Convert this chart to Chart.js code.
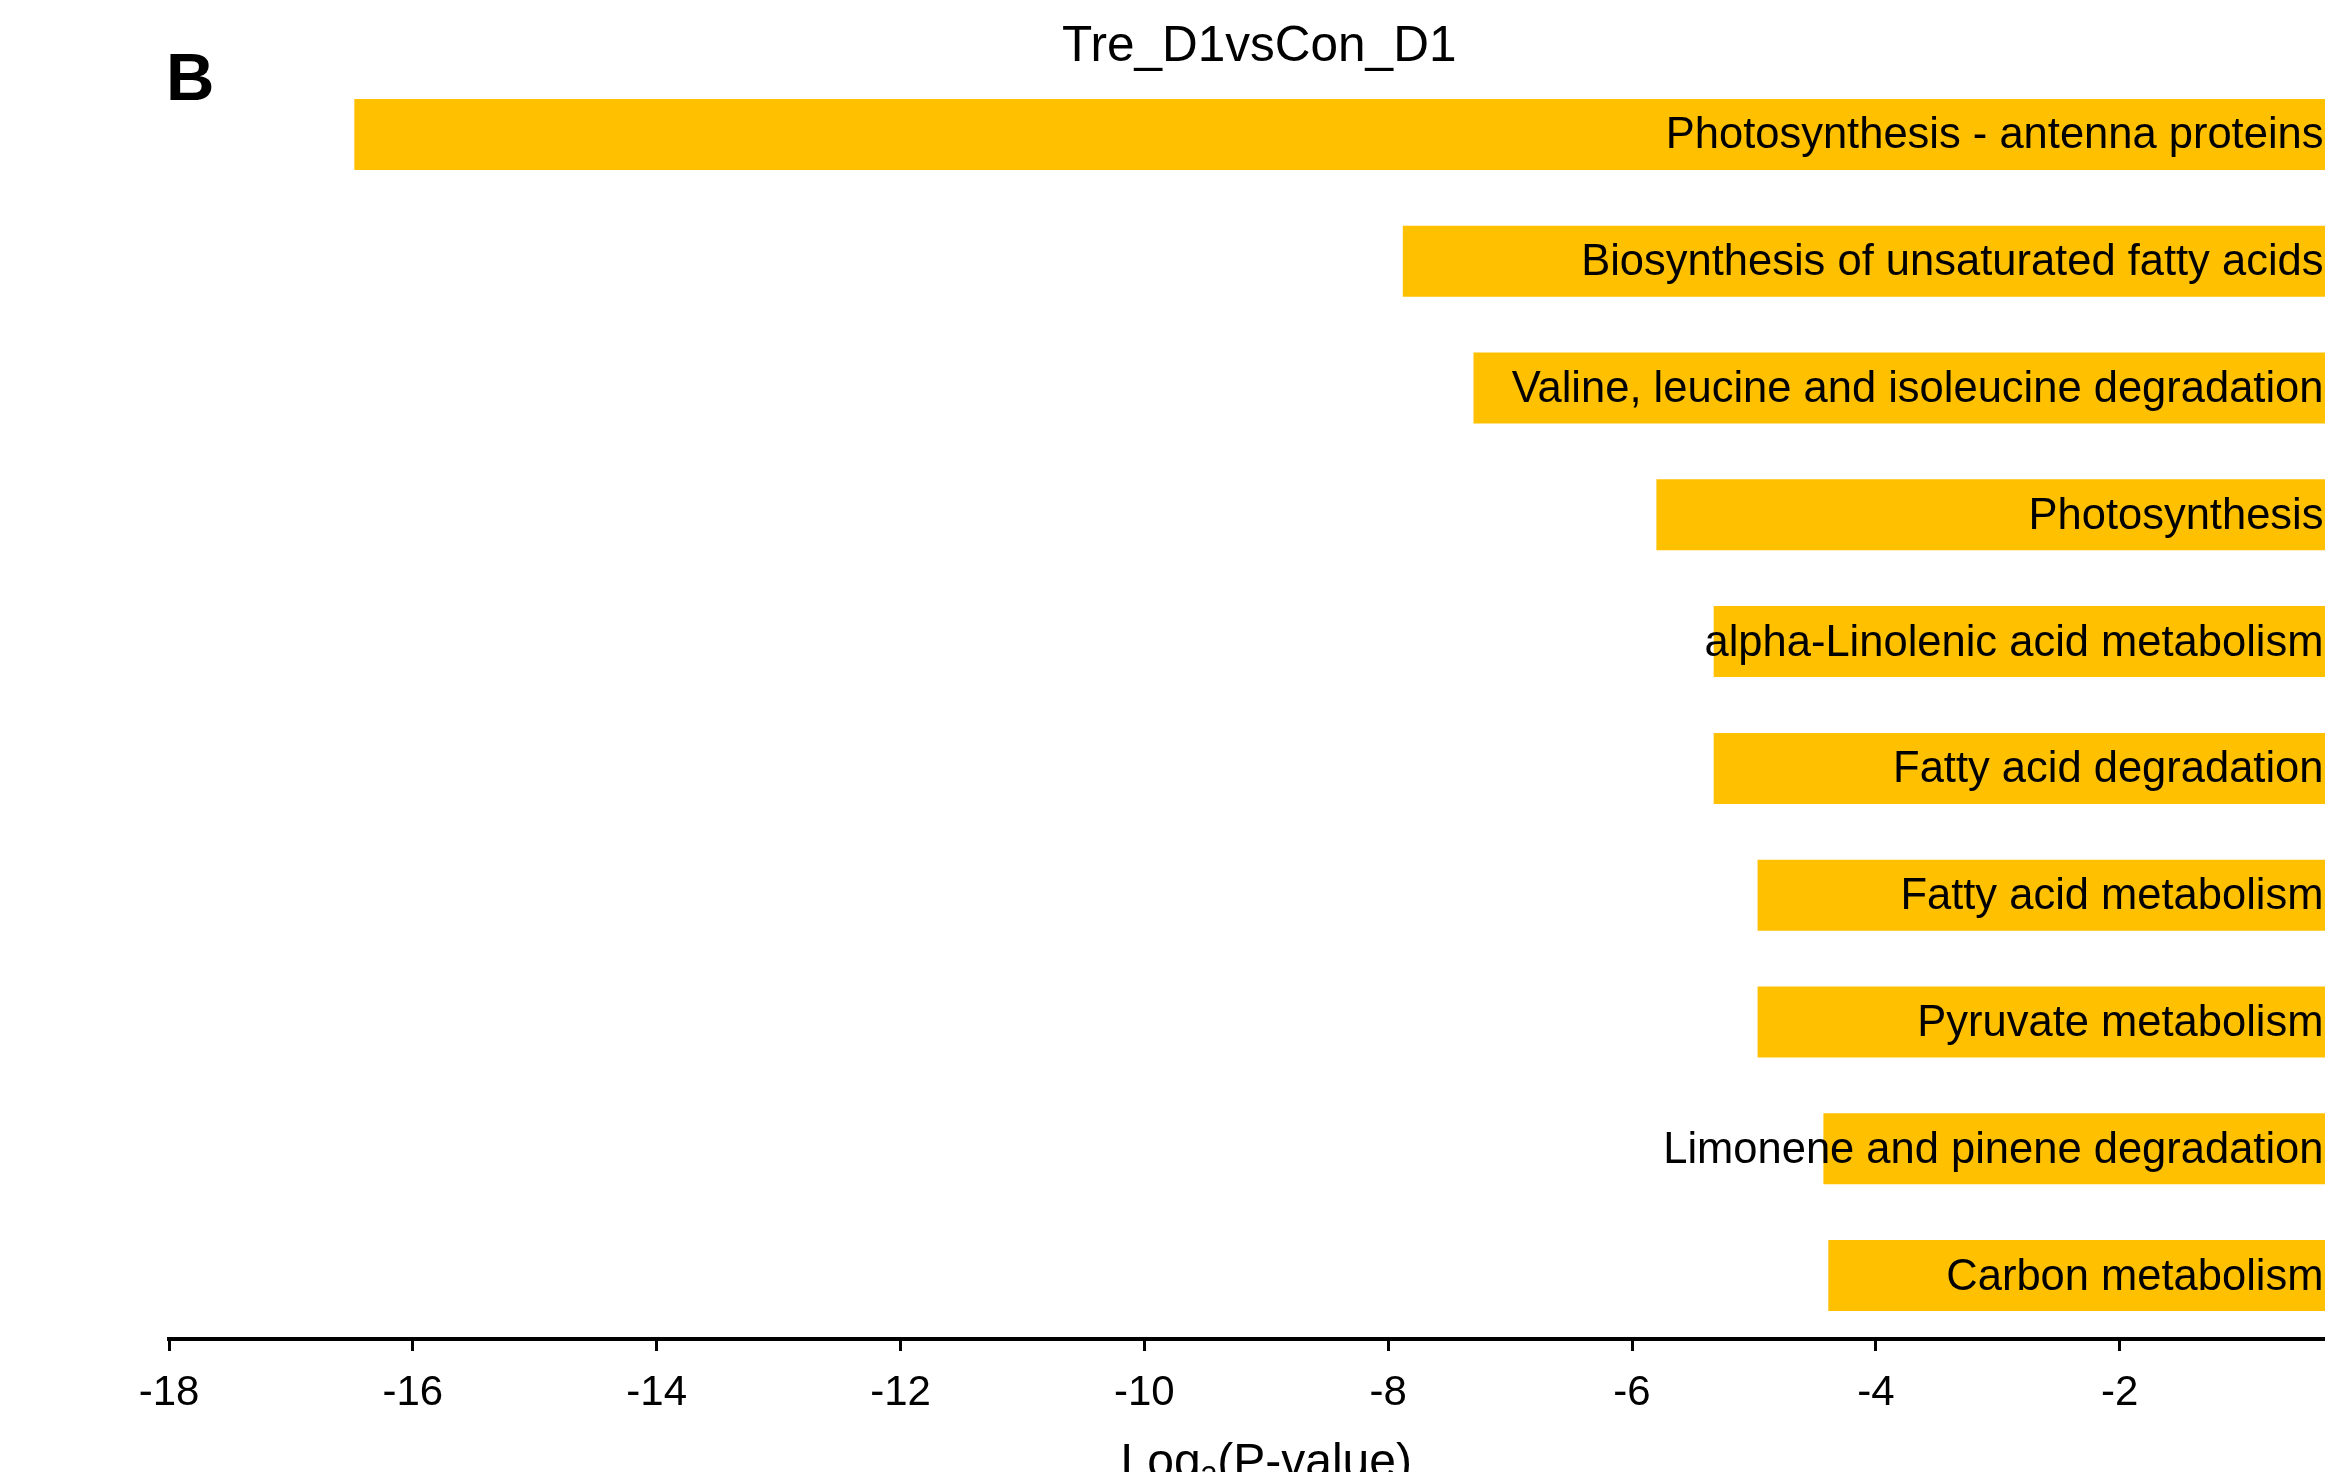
<!DOCTYPE html>
<html>
<head>
<meta charset="utf-8">
<script src="https://cdn.jsdelivr.net/npm/chart.js@4.4.1/dist/chart.umd.min.js"></script>
<style>
  html, body { margin: 0; padding: 0; background: #fff; overflow: hidden; }
  #wrap { width: 2400px; height: 1472px; }
</style>
</head>
<body>
<div id="wrap"><canvas id="kegg-chart" width="2400" height="1472"></canvas></div>
<script>
// Dati (dall'alto verso il basso)
const pathways = [
    'Photosynthesis - antenna proteins',
    'Biosynthesis of unsaturated fatty acids',
    'Valine, leucine and isoleucine degradation',
    'Photosynthesis',
    'alpha-Linolenic acid metabolism',
    'Fatty acid degradation',
    'Fatty acid metabolism',
    'Pyruvate metabolism',
    'Limonene and pinene degradation',
    'Carbon metabolism'
];
const log2PValues = [-16.48, -7.88, -7.30, -5.80, -5.33, -5.33, -4.97, -4.97, -4.43, -4.39];
const xTicks = [-18, -16, -14, -12, -10, -8, -6, -4, -2, 0];
const chartTitle = 'Tre_D1vsCon_D1';
const panelLetter = 'B';

const FONT = '"Liberation Sans", Arial, sans-serif';

// Etichette dentro le barre, titolo e lettera del pannello
const labelPlugin = {
    id: 'labelPlugin',
    afterDatasetsDraw(chart) {
        const ctx = chart.ctx;
        const x = chart.scales.x;
        const meta = chart.getDatasetMeta(0);
        ctx.save();
        ctx.fillStyle = '#000';
        ctx.font = '43.5px ' + FONT;
        ctx.textAlign = 'right';
        ctx.textBaseline = 'middle';
        const right = x.getPixelForValue(0) - 40;
        meta.data.forEach((bar, i) => {
            ctx.fillText(pathways[i], right, bar.y + 2);
        });

        // titolo
        const area = chart.chartArea;
        ctx.font = '49.5px ' + FONT;
        ctx.textAlign = 'center';
        ctx.textBaseline = 'alphabetic';
        ctx.fillText(chartTitle, (area.left + area.right) / 2 - 7, 61);

        // lettera B
        ctx.font = 'bold 67px ' + FONT;
        ctx.textAlign = 'left';
        ctx.fillText(panelLetter, 166, 100);

        // titolo asse x con pedice
        const big = '48px ' + FONT;
        const small = '30px ' + FONT;
        ctx.font = big;
        const w1 = ctx.measureText('Log').width;
        const w3 = ctx.measureText('(P-value)').width;
        ctx.font = small;
        const w2 = ctx.measureText('2').width;
        const total = w1 + w2 + w3;
        let sx = (area.left + area.right) / 2 - total / 2;
        const base = 1477;
        ctx.font = big;
        ctx.fillText('Log', sx, base);
        sx += w1;
        ctx.font = small;
        ctx.fillText('2', sx, base + 9);
        sx += w2;
        ctx.font = big;
        ctx.fillText('(P-value)', sx, base);
        ctx.restore();
    }
};

const ctx = document.getElementById('kegg-chart').getContext('2d');
new Chart(ctx, {
    type: 'bar',
    data: {
        labels: pathways,
        datasets: [{
            data: log2PValues,
            backgroundColor: '#FFC000',
            borderWidth: 0,
            barPercentage: 0.56,
            categoryPercentage: 1
        }]
    },
    options: {
        indexAxis: 'y',
        responsive: false,
        animation: false,
        devicePixelRatio: 1,
        layout: {
            padding: { left: 169, right: 36.5, top: 71, bottom: 0 }
        },
        plugins: {
            legend: { display: false },
            tooltip: { enabled: false },
            title: { display: false }
        },
        scales: {
            y: {
                display: false
            },
            x: {
                min: -18,
                max: 0,
                afterBuildTicks: (scale) => {
                    scale.ticks = xTicks.map(v => ({ value: v }));
                },
                afterFit: (scale) => {
                    scale.height = 133;
                },
                grid: {
                    drawOnChartArea: false,
                    drawTicks: true,
                    tickLength: 12,
                    tickWidth: 3,
                    tickColor: '#000'
                },
                border: {
                    display: true,
                    color: '#000',
                    width: 4
                },
                ticks: {
                    color: '#000',
                    padding: 17,
                    maxRotation: 0,
                    autoSkip: false,
                    font: { family: FONT, size: 42 }
                }
            }
        }
    },
    plugins: [labelPlugin]
});
</script>
</body>
</html>
